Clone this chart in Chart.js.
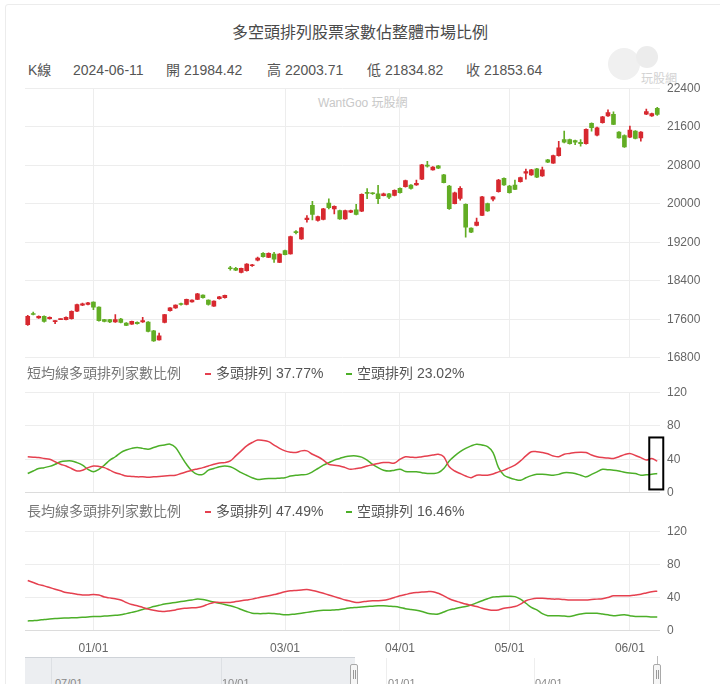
<!DOCTYPE html>
<html><head><meta charset="utf-8">
<script src="https://cdn.jsdelivr.net/npm/chart.js@4.4.1/dist/chart.umd.min.js"></script>
<style>
html,body{margin:0;padding:0;background:#fff;}
body{width:720px;height:684px;overflow:hidden;position:relative;font-family:"Liberation Sans",Arial,"Noto Sans CJK TC",sans-serif;}
.abs{position:absolute;white-space:nowrap;}
.card{position:absolute;left:5px;top:4px;width:800px;height:800px;border:1px solid #ececec;border-radius:3px;}
.title{left:0;width:720px;top:21px;line-height:20px;text-align:center;font-size:16px;color:#4a4a4a;font-family:"Noto Sans CJK TC","Liberation Sans",sans-serif;}
.hdr{top:61px;line-height:18px;font-size:14px;color:#555;}
.ph{line-height:18px;font-size:14px;color:#777;}
.lg{line-height:18px;font-size:14px;color:#555;}
.dash{position:absolute;width:6px;height:2px;}
.wm{left:318px;top:96px;font-size:12px;color:#c8c8c8;line-height:14px;}
.cv{position:absolute;left:0;}
.nav{position:absolute;left:25px;top:657px;width:330px;height:40px;background:#eceef1;border-top:1px solid #cfd3d8;}
.vl{position:absolute;width:1px;background:#dde0e4;}
.handle{position:absolute;top:664px;width:6px;height:20px;border:1px solid #a9a9a9;background:#f6f6f6;border-radius:2px;}
.handle i{position:absolute;top:5px;width:1px;height:9px;background:#999;}
.nl{position:absolute;top:677px;font-size:11px;color:#888;line-height:13px;}
</style></head>
<body>
<div class="card"></div>
<div class="abs title">多空頭排列股票家數佔整體市場比例</div>
<div class="abs hdr" style="left:28px">K線</div>
<div class="abs hdr" style="left:73px">2024-06-11</div>
<div class="abs hdr" style="left:166px">開 21984.42</div>
<div class="abs hdr" style="left:267px">高 22003.71</div>
<div class="abs hdr" style="left:367px">低 21834.82</div>
<div class="abs hdr" style="left:466px">收 21853.64</div>
<div class="abs" style="left:608px;top:48px;width:32px;height:32px;border-radius:50%;background:#f0f0f0;"></div>
<div class="abs" style="left:636px;top:46px;width:22px;height:22px;border-radius:50%;background:#ececec;"></div>
<div class="abs" style="left:641px;top:72px;font-size:12px;color:#d2d2d2;line-height:14px;">玩股網</div>
<div class="abs wm">WantGoo 玩股網</div>

<canvas id="c1" class="cv" width="720" height="298" style="top:74px"></canvas>
<div class="abs ph" style="left:27px;top:364px">短均線多頭排列家數比例</div>
<div class="dash" style="left:205px;top:373px;background:#e5404f"></div>
<div class="abs lg" style="left:216px;top:364px">多頭排列 37.77%</div>
<div class="dash" style="left:346px;top:373px;background:#4caf28"></div>
<div class="abs lg" style="left:357px;top:364px">空頭排列 23.02%</div>
<canvas id="c2" class="cv" width="720" height="129" style="top:378px"></canvas>
<div class="abs ph" style="left:27px;top:502px">長均線多頭排列家數比例</div>
<div class="dash" style="left:205px;top:511px;background:#e5404f"></div>
<div class="abs lg" style="left:216px;top:502px">多頭排列 47.49%</div>
<div class="dash" style="left:346px;top:511px;background:#4caf28"></div>
<div class="abs lg" style="left:357px;top:502px">空頭排列 16.46%</div>
<canvas id="c3" class="cv" width="720" height="154" style="top:517px"></canvas>

<div class="nav"></div>
<div class="vl" style="left:51px;top:658px;height:30px"></div>
<div class="vl" style="left:221px;top:658px;height:30px"></div>
<div class="vl" style="left:386px;top:658px;height:30px;background:#eeeeee"></div>
<div class="vl" style="left:534px;top:658px;height:30px;background:#eeeeee"></div>
<div class="vl" style="left:657px;top:656px;height:9px;background:#bbbbbb"></div>
<div class="handle" style="left:350px"><i style="left:2px"></i><i style="left:4px"></i></div>
<div class="handle" style="left:653px"><i style="left:2px"></i><i style="left:4px"></i></div>
<div class="nl" style="left:55px">07/01</div>
<div class="nl" style="left:222px">10/01</div>
<div class="nl" style="left:388px">01/01</div>
<div class="nl" style="left:535px">04/01</div>

<script>
const categories = [
'2023-12-14','2023-12-15','2023-12-18','2023-12-19','2023-12-20','2023-12-21','2023-12-22','2023-12-25','2023-12-26','2023-12-27','2023-12-28','2023-12-29',
'2024-01-02','2024-01-03','2024-01-04','2024-01-05','2024-01-08','2024-01-09','2024-01-10','2024-01-11','2024-01-12','2024-01-15','2024-01-16','2024-01-17','2024-01-18','2024-01-19','2024-01-22','2024-01-23','2024-01-24','2024-01-25','2024-01-26','2024-01-29','2024-01-30','2024-01-31',
'2024-02-01','2024-02-02','2024-02-05','2024-02-15','2024-02-16','2024-02-19','2024-02-20','2024-02-21','2024-02-22','2024-02-23','2024-02-26','2024-02-27','2024-02-29',
'2024-03-01','2024-03-04','2024-03-05','2024-03-06','2024-03-07','2024-03-08','2024-03-11','2024-03-12','2024-03-13','2024-03-14','2024-03-15','2024-03-18','2024-03-19','2024-03-20','2024-03-21','2024-03-22','2024-03-25','2024-03-26','2024-03-27','2024-03-28','2024-03-29',
'2024-04-01','2024-04-02','2024-04-03','2024-04-08','2024-04-09','2024-04-10','2024-04-11','2024-04-12','2024-04-15','2024-04-16','2024-04-17','2024-04-18','2024-04-19','2024-04-22','2024-04-23','2024-04-24','2024-04-25','2024-04-26','2024-04-29','2024-04-30',
'2024-05-02','2024-05-03','2024-05-06','2024-05-07','2024-05-08','2024-05-09','2024-05-10','2024-05-13','2024-05-14','2024-05-15','2024-05-16','2024-05-17','2024-05-20','2024-05-21','2024-05-22','2024-05-23','2024-05-24','2024-05-27','2024-05-28','2024-05-29','2024-05-30','2024-05-31',
'2024-06-03','2024-06-04','2024-06-05','2024-06-06','2024-06-07','2024-06-11'];

const tickDates = ['2024-01-02','2024-03-01','2024-04-01','2024-05-02','2024-06-03'];
const tickLabels = ['01/01','03/01','04/01','05/01','06/01'];
const priceTicks = [16800,17600,18400,19200,20000,20800,21600,22400];
const ratioTicks = [0,40,80,120];

const openVals = [17487,17720,17627,17662,17613,17550,17592,17592,17613,17767,17893,17907,
17956,17851,17592,17592,17543,17606,17522,17501,17536,17543,17543,17362,17173,17536,17781,17837,17921,17907,17963,18012,18103,17998,
17872,18026,18047,18670,18656,18573,18608,18712,18830,18970,18886,18956,18782,
19025,18956,19420,19269,19670,19965,19652,19672,20013,19895,19860,19686,19826,19874,19846,20230,20222,20208,20167,20208,20174,
20319,20354,20389,20389,20508,20795,20704,20788,20599,20368,20004,20109,19990,19493,19549,19759,20004,20095,20249,20529,
20368,20389,20459,20634,20599,20725,20578,20914,20844,20998,21334,21334,21313,21278,21250,21670,21425,21684,21824,21859,
21488,21418,21383,21509,21369,21859,21824,21984.42];
const highVals = [17683,17750,17670,17670,17650,17575,17610,17650,17775,17915,17935,17950,
17965,17860,17600,17600,17697,17620,17530,17565,17545,17641,17550,17370,17313,17705,17845,17900,17935,18020,18005,18140,18110,18005,
17985,18075,18105,18700,18680,18665,18755,18740,18890,18985,18980,18990,18965,
19035,19330,19443,19510,19756,20048,19745,19905,20104,19955,19870,19870,19870,19986,20205,20313,20230,20382,20220,20215,20290,
20330,20490,20400,20494,20820,20879,20770,20800,20610,20380,20240,20354,20000,19500,19703,20155,20015,20150,20505,20540,
20380,20494,20555,20718,20715,20735,20760,20925,21010,21299,21509,21345,21320,21334,21555,21680,21590,21815,21950,21908,
21500,21430,21614,21520,21500,21964,21885,22003.71];
const lowVals = [17473,17690,17620,17540,17605,17508,17590,17585,17605,17760,17885,17900,
17802,17560,17545,17530,17535,17525,17465,17495,17500,17536,17340,17140,17165,17525,17770,17825,17895,17900,17955,18005,18040,17895,
17865,18020,18040,18620,18610,18565,18600,18700,18810,18890,18880,18782,18775,
18935,18950,19373,19260,19617,19665,19640,19665,19895,19791,19675,19675,19815,19770,19835,20104,20195,19999,20160,20104,20165,
20220,20345,20305,20380,20500,20760,20695,20730,20430,19880,19995,20074,19304,19400,19540,19750,19840,20060,20240,20380,
20220,20290,20450,20508,20590,20540,20570,20855,20835,20990,21264,21240,21229,21194,21240,21509,21410,21675,21815,21640,
21360,21170,21375,21345,21299,21850,21815,21834.82];
const closeVals = [17662,17700,17662,17557,17641,17571,17606,17641,17767,17907,17921,17942,
17851,17571,17557,17543,17592,17536,17473,17557,17508,17571,17348,17152,17257,17697,17837,17893,17907,18012,17998,18131,18047,17907,
17977,18068,18096,18650,18621,18656,18747,18730,18872,18900,18970,18851,18956,
18942,19318,19400,19499,19700,19777,19735,19895,19916,19944,19686,19860,19860,19777,20195,20215,20208,20104,20208,20139,20278,
20228,20480,20319,20424,20809,20780,20760,20739,20438,19899,20228,20319,19514,19409,19619,20144,19850,20144,20494,20389,
20228,20298,20543,20669,20704,20550,20704,20865,20998,21159,21278,21250,21278,21250,21544,21579,21579,21803,21894,21649,
21369,21180,21530,21355,21488,21915,21873,21853.64];

const shortBull = [43,42.5,42,41,40,37,34,32,29,26,27,30,32,31.5,30,27,24,22,20,19.5,
19,19,18.5,19,19.5,20,20.5,21,23,25,27,28.5,30,32,34,35.5,36,38,44,50,
56,60,63,62.5,61,57,53,50,48.5,48,50,50,46,43,39,34,33,32,30,28,
29,30,32,33.5,35,36,36,35.5,40,43,42.5,42,43,44,45,46,43,31,26,23,
20,18,21,21,21,22.5,25,27,30,33,38,44,49,49,48,46.5,44,43,46,47,
48,48.5,48,45,43,42,41.5,41,43,45.5,47,44.5,42,39,41,37.77];
const shortBear = [23,26,29,30,31.5,34,37,38,38,36,33,28,25,28,33,39,43,48,51,53,
54,53,52,54,56,57,58,54,44,34,26,22,22,27,29,31,32,31,28,24,
21,18,16,16.5,17,17,17.5,18,20,21,21.5,22,25,29,33,36,39,41,43,44,
44,42.5,39,34,30,27,26,27,28,25.5,25,25,24,23,23,24,29,38,44,49,
53,56,58,57,55,48,30,21,18,16,15,18,20.5,22,22,21.5,21,22,24,24,
23,21,19,22,25,28,27.5,27,26,24.5,23.5,23,21,21.5,22,23.02];
const longBull = [60.5,58,55.5,54,52,50,48,46,45,44,43,43,43.5,43,40.5,39.5,38.5,37,34,31.5,
30,28,26,24.5,23.5,23,24,25,26.5,27,27.5,28,29.5,32,34,34,34,34,35,36,
37,38,39.5,41,42,43.5,45,47,48,48.5,49,49.5,48.5,47,45,43,41,39,37,35.5,
34,34.5,35.5,36,36,36.5,38,40,42,43.5,45,46,46.5,47,47,45,42,38.5,36,34,
32,30.5,29,27,25.5,24.5,25,27,28,29,32,36,38,39,39,38.5,38,38,37.5,37,
37,37,37,37.5,38,38.5,40,42,42,42,42,43,44,45.5,47,47.49];
const longBear = [11.7,12,12.5,13.5,14,14.5,15,15.2,15.4,15.6,16,16.5,17,17,17.5,18,18.5,19,20.5,22,
23.5,25.5,27,29,30.5,32,33,34,35,36,37,38,37.5,36,34.5,33,31.5,30,28,25.5,
23,21,20.5,20.5,21,20.5,20,19,19.5,20,21,22,23,24,24.5,24.5,25,25.5,26.5,27.5,
28,28.5,29,29.5,30,30,29.5,29,28,26.5,25.5,24.5,23,21,20,20,22.5,25,26.5,28,
29,31,33.5,36,38.5,40.5,41,41.5,41.5,41,38,33,28,25,20.5,18,18,18,17.5,17,
18.5,20,21,21,21,20,19,18,18.5,19,18,17,17,17,16.5,16.46];

const UP = '#d7282f', DOWN = '#62ad24', RED_LINE = '#e5404f', GREEN_LINE = '#4caf28';
const GRID = '#ededed';
Chart.defaults.font.family = '"Liberation Sans", Arial, sans-serif';
Chart.defaults.font.size = 12;
Chart.defaults.color = '#666';

const tickIdx = tickDates.map(d => categories.indexOf(d));
const candleColors = closeVals.map((c, i) => c >= openVals[i] ? UP : DOWN);

function xAxis(showLabels) {
  return {
    offset: true,
    afterBuildTicks: s => { s.ticks = tickIdx.map(v => ({ value: v })); },
    grid: { offset: false, color: GRID, drawTicks: false },
    border: { display: false },
    ticks: {
      display: showLabels, autoSkip: false, maxRotation: 0, padding: 11, color: '#666',
      callback: v => tickLabels[tickIdx.indexOf(v)]
    }
  };
}
function yAxis(min, max, ticksArr) {
  return {
    position: 'right', min: min, max: max,
    afterFit: s => { s.width = 60; },
    afterBuildTicks: s => { s.ticks = ticksArr.map(v => ({ value: v })); },
    grid: { color: (c) => (c.tick && c.tick.value === 0) ? '#dcdcdc' : GRID, drawTicks: false },
    border: { display: false },
    ticks: { padding: 7, color: '#666', callback: v => String(v) }
  };
}
const common = {
  animation: false, responsive: false, events: [],
  plugins: { legend: { display: false }, tooltip: { enabled: false } }
};

new Chart(document.getElementById('c1'), {
  type: 'bar',
  data: {
    labels: categories,
    datasets: [
      { data: lowVals.map((l, i) => [l, highVals[i]]), backgroundColor: candleColors, barThickness: 1, grouped: false, order: 2 },
      { data: openVals.map((o, i) => [o, closeVals[i]]), backgroundColor: candleColors, barThickness: 4, grouped: false, minBarLength: 1, order: 1 }
    ]
  },
  options: Object.assign({}, common, {
    layout: { padding: { left: 25, right: 0, top: 2, bottom: 4 } },
    scales: { x: xAxis(false), y: yAxis(16800, 22400, priceTicks) }
  })
});

function lineSets(a, b) {
  return [
    { data: a, borderColor: RED_LINE, borderWidth: 1.5, pointRadius: 0, tension: 0.35, fill: false },
    { data: b, borderColor: GREEN_LINE, borderWidth: 1.5, pointRadius: 0, tension: 0.35, fill: false }
  ];
}
const boxPlugin = {
  id: 'lastBox',
  afterDatasetsDraw(chart) {
    const { ctx, scales: { x, y } } = chart;
    const cx = x.getPixelForValue(categories.length - 1);
    const top = y.getPixelForValue(66), bot = y.getPixelForValue(4);
    ctx.save();
    ctx.strokeStyle = '#000'; ctx.lineWidth = 2;
    ctx.strokeRect(cx - 8, top, 14, bot - top);
    ctx.restore();
  }
};

new Chart(document.getElementById('c2'), {
  type: 'line',
  data: { labels: categories, datasets: lineSets(shortBull, shortBear) },
  options: Object.assign({}, common, {
    layout: { padding: { left: 25, right: 0, top: 2, bottom: 2 } },
    scales: { x: xAxis(false), y: yAxis(0, 120, ratioTicks) }
  }),
  plugins: [boxPlugin]
});

new Chart(document.getElementById('c3'), {
  type: 'line',
  data: { labels: categories, datasets: lineSets(longBull, longBear) },
  options: Object.assign({}, common, {
    layout: { padding: { left: 25, right: 0, top: 2, bottom: 4 } },
    scales: { x: xAxis(true), y: yAxis(0, 120, ratioTicks) }
  })
});
</script>
</body></html>
